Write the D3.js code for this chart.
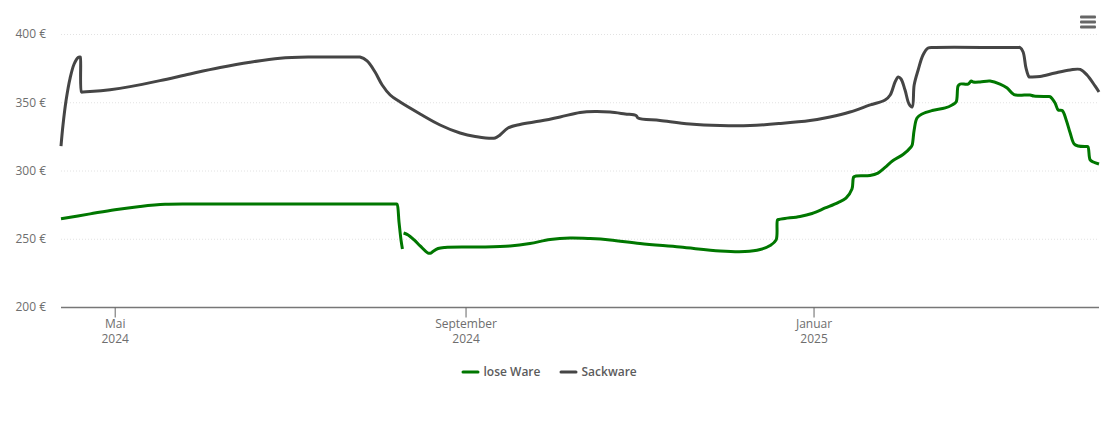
<!DOCTYPE html>
<html>
<head>
<meta charset="utf-8">
<script src="https://cdn.jsdelivr.net/npm/d3@7"></script>
<style>
  html, body { margin: 0; padding: 0; background: #fff; }
  text { font-family: "Open Sans", sans-serif; }
</style>
</head>
<body>
<svg id="chart"></svg>
<script>
// x values are days after the first date on the axis
var firstDate = new Date(2024, 3, 12);
var lastDay = 363.9;

var yTicks = [200, 250, 300, 350, 400];
var xTicks = [new Date(2024, 4, 1), new Date(2024, 8, 1), new Date(2025, 0, 1)];
var xTickMonths = ["Mai", "September", "Januar"];
var xTickYears = ["2024", "2024", "2025"];
var seriesNames = ["lose Ware", "Sackware"];

// null = gap in the line
var loseDays = [0, 10.2, 18.9, 27.7, 36.5, 48.7, 116.8, 117.4, 117.8, 118.5, 119.2, 119.7, 119.9,
  120.1, 121.7, 123.8, 125.9, 128.7, 129.7, 130.4, 132.2, 134.6, 146.9, 157.4, 164.4, 171.5,
  178.5, 185.5, 192.5, 203, 217, 231.1, 239.8, 245.1, 248.6, 250.7, 251.2, 251.7, 253.8, 259.1,
  263.3, 267.9, 272.4, 275.2, 277.3, 277.9, 278.7, 283.6, 286.4, 288.9, 291.7, 295.2, 298,
  298.4, 299.1, 300.1, 301.9, 305.4, 310, 312.4, 313.8, 314.5, 315.2, 318, 319.1, 319.8,
  322.2, 325.7, 329.2, 331.7, 334.1, 339.7, 341.1, 346, 346.7, 348.5, 349.6, 351, 352.4, 353.8,
  355.2, 356.6, 359.4, 360, 360.8, 361.9, 363.9];
var losePrices = [265, 268.6, 271.6, 274, 275.6, 275.8, 275.8, 275.8, 275.8, 262.6, 249.5, 242.9, null,
  254.6, 253.1, 249.5, 245.1, 239.9, 239.9, 241, 243.2, 244, 244.3, 245.1, 246.9, 249.8,
  250.9, 250.5, 249.5, 246.9, 244.3, 241.4, 241, 242.5, 245.4, 249.5, 264.1, 264.5, 265.2, 266.7,
  268.9, 272.9, 276.9, 280.2, 286.8, 295.6, 296.3, 296.7, 298.5, 302.6, 307.7, 312.1, 317.6,
  319, 330, 338.8, 341.8, 344.3, 346.2, 348.4, 350.5, 362.3, 363.7, 363.7, 365.9, 365.2,
  365.2, 365.9, 363.7, 360.8, 356, 355.7, 354.9, 354.6, 354.5, 349.8, 344.7, 344.3, 337.4, 327.8,
  319.8, 318.3, 317.9, 317.9, 308.1, 306.6, 305.1];

var sackDays = [0, 0.7, 1.8, 3.2, 4.6, 6, 6.7, 6.8, 7.2, 7.7, 10.2, 17.2, 24.2, 34.7, 45.2, 55.8,
  66.3, 76.8, 87.3, 103.5, 104.8, 107.3, 110.1, 112.6, 115.4, 118.9, 125.9, 132.9, 139.9, 145.2,
  152.2, 153.9, 156.7, 160.9, 168, 175, 182, 187.2, 192.5, 197.8, 201.6, 202.3, 210, 220.5,
  231.1, 241.6, 252.1, 262.6, 269.6, 276.6, 283.7, 288.9, 290.7, 292.4, 293.5, 294.5, 295.9,
  297.3, 298.4, 299.1, 300.5, 302.2, 304, 306.4, 329.2, 335.6, 336.2, 337.3, 338.3, 339.4, 340, 343.2,
  348.5, 353.8, 357.3, 359.7, 362.5, 363.9];
var sackPrices = [318.3, 333.7, 352, 368.1, 378.4, 383.2, 383.5, 383.5, 357.9, 357.9, 358.2, 359.6, 361.8,
  366.2, 371.1, 375.8, 379.7, 382.6, 383.5, 383.5, 383.5, 380.6, 372.5, 363, 355.7, 350.5, 341.8,
  333.7, 327.8, 325.3, 324.2, 326.4, 331.5, 334.1, 336.6, 339.6, 342.9, 343.6, 343.2, 341.8,
  340.7, 338.8, 337, 334.4, 333.3, 333.3, 334.8, 337, 339.6, 343.2, 348.4, 352, 355.7, 365.2,
  368.9, 367.4, 359.3, 349.1, 346.9, 363, 374, 385, 390.1, 390.5, 390.5, 390.5, 390.5, 387.2, 375.5,
  368.9, 368.9, 369.2, 371.8, 374, 374.4, 370.3, 362.3, 357.9];

var width = 1110, height = 422;
var green = "#007700", gray = "#454545", textColor = "#6e6e6e";

function dayToDate(d) {
    return new Date(firstDate.getTime() + d * 864e5);
}

var x = d3.scaleTime()
    .domain([firstDate, dayToDate(lastDay)])
    .range([61, 1099]);

var y = d3.scaleLinear()
    .domain([200, 400])
    .range([307.5, 34.5]);

var svg = d3.select("#chart")
    .attr("width", width)
    .attr("height", height)
    .style("display", "block");

// Gridlines
svg.append("g").selectAll("line")
    .data(yTicks.slice(1))
    .enter().append("line")
    .attr("x1", 61)
    .attr("x2", 1099)
    .attr("y1", function(d) { return y(d); })
    .attr("y2", function(d) { return y(d); })
    .attr("stroke", "#e2e2e2")
    .attr("stroke-dasharray", "1,2");

// Y axis
var yAxis = svg.append("g")
    .attr("transform", "translate(60,0.1)")
    .call(d3.axisLeft(y).tickValues(yTicks).tickSize(0).tickPadding(14).offset(0)
        .tickFormat(function(d) { return d + " €"; }));
yAxis.select(".domain").remove();
yAxis.selectAll("text")
    .attr("fill", textColor)
    .style("font-size", "12px");

// X axis
var xAxis = svg.append("g")
    .attr("transform", "translate(0,307.5)")
    .call(d3.axisBottom(x).tickValues(xTicks).tickSizeInner(10).tickSizeOuter(0).offset(0).tickFormat(""));
xAxis.select(".domain")
    .attr("stroke", "#777")
    .attr("stroke-width", 1.5);
xAxis.selectAll(".tick line")
    .attr("stroke", "#666");
xAxis.selectAll(".tick text").each(function(d, i) {
    var t = d3.select(this)
        .attr("fill", textColor)
        .attr("y", 20)
        .attr("dy", 0)
        .style("font-size", "12px");
    t.append("tspan").attr("x", 0).text(xTickMonths[i]);
    t.append("tspan").attr("x", 0).attr("dy", 15).text(xTickYears[i]);
});

var line = d3.line()
    .defined(function(d) { return d[1] !== null; })
    .x(function(d) { return x(dayToDate(d[0])); })
    .y(function(d) { return y(d[1]); })
    .curve(d3.curveCatmullRom.alpha(0.5));

svg.append("path")
    .datum(sackDays.map(function(d, i) { return [d, sackPrices[i]]; }))
    .attr("fill", "none")
    .attr("stroke", gray)
    .attr("stroke-width", 3)
    .attr("stroke-linejoin", "round")
    .attr("stroke-linecap", "butt")
    .attr("d", line);

svg.append("path")
    .datum(loseDays.map(function(d, i) { return [d, losePrices[i]]; }))
    .attr("fill", "none")
    .attr("stroke", green)
    .attr("stroke-width", 3)
    .attr("stroke-linejoin", "round")
    .attr("stroke-linecap", "butt")
    .attr("d", line);

// Legend
var legendX = [463, 561];
var legendColor = d3.scaleOrdinal().domain(seriesNames).range([green, gray]);
var legend = svg.selectAll(".legend")
    .data(seriesNames)
    .enter().append("g")
    .attr("class", "legend")
    .attr("transform", function(d, i) { return "translate(" + legendX[i] + ",372)"; });

legend.append("line")
    .attr("x1", 0)
    .attr("x2", 15)
    .attr("stroke", legendColor)
    .attr("stroke-width", 3)
    .attr("stroke-linecap", "round");

legend.append("text")
    .attr("x", 20.5)
    .attr("dy", ".35em")
    .attr("fill", "#5c5c5c")
    .style("font-size", "12px")
    .style("font-weight", "600")
    .text(function(d) { return d; });

// Menu icon
svg.append("g").selectAll("rect")
    .data([15.5, 20.5, 25.5])
    .enter().append("rect")
    .attr("x", 1080)
    .attr("y", function(d) { return d; })
    .attr("width", 16)
    .attr("height", 3)
    .attr("rx", 1)
    .attr("fill", "#666");
</script>
</body>
</html>
